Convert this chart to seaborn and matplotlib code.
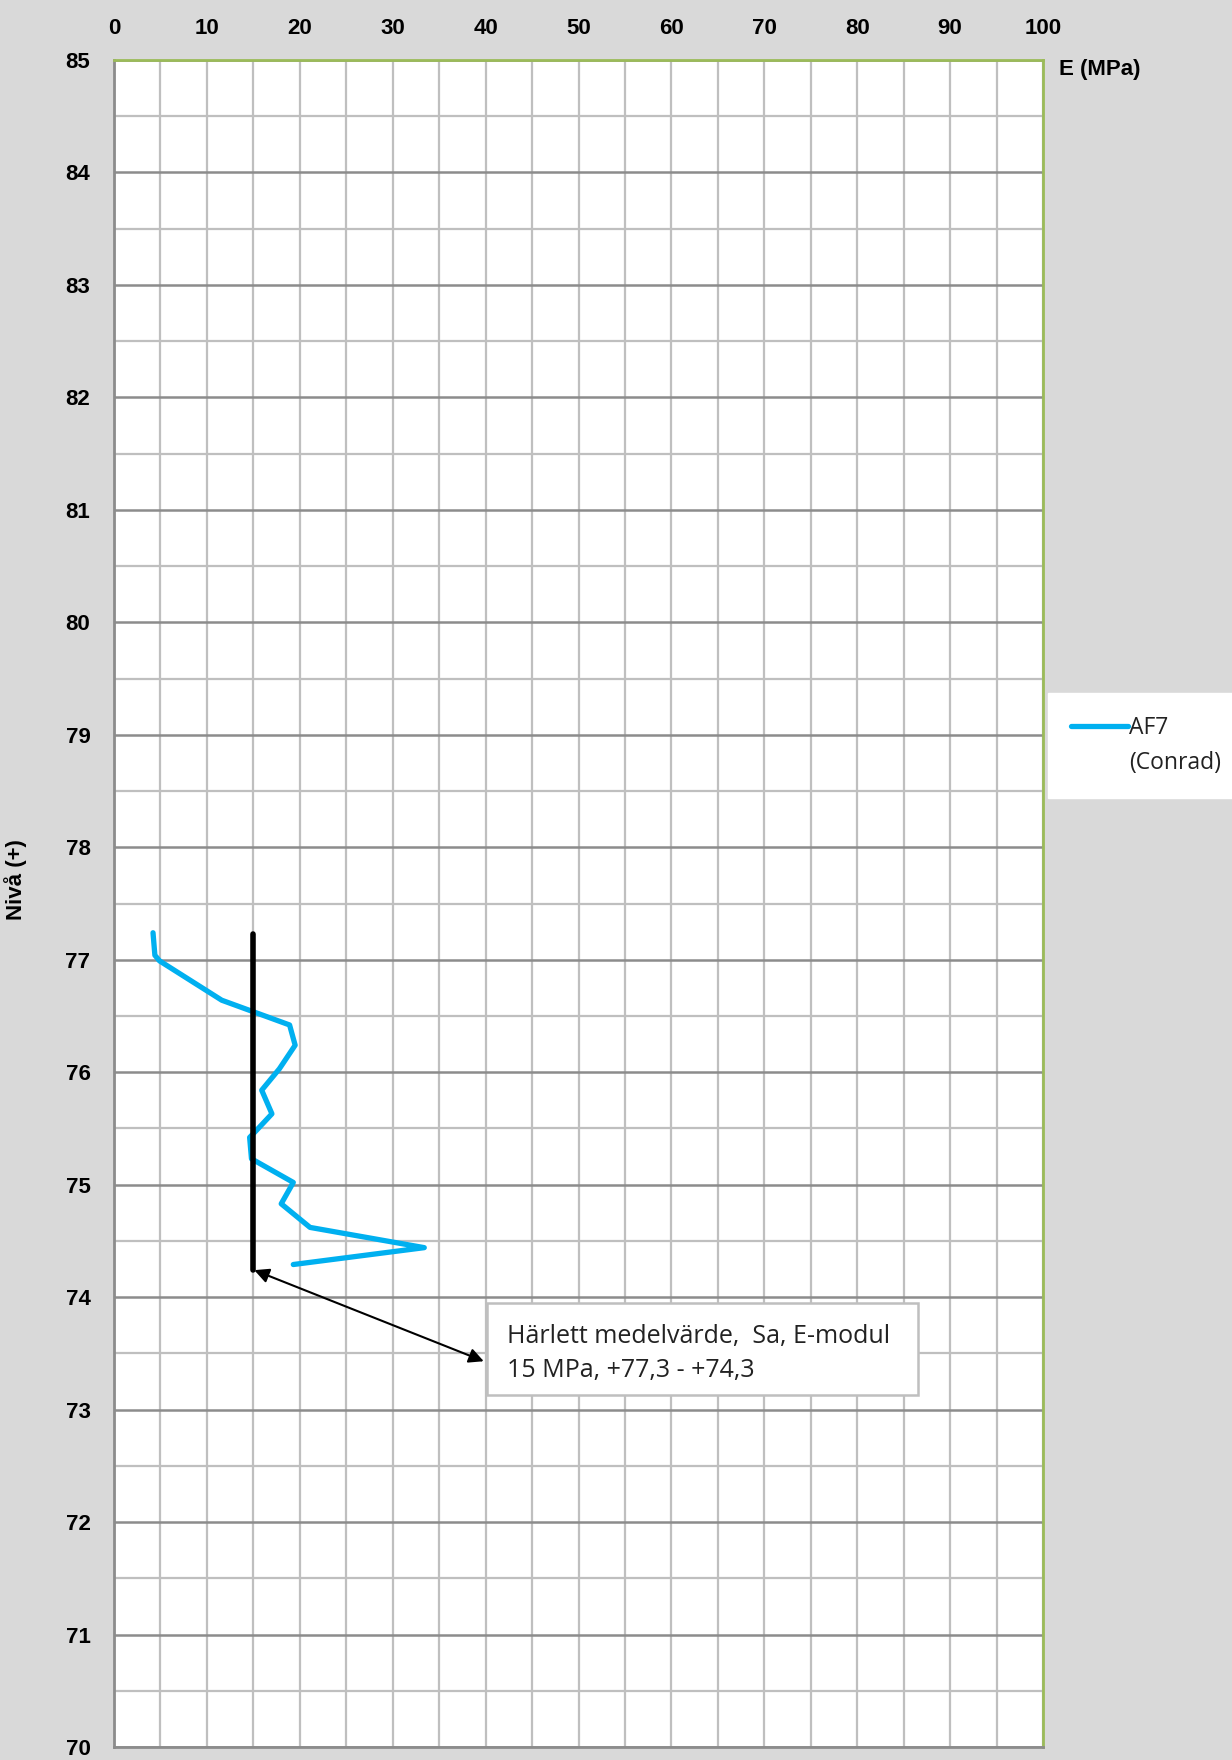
import numpy as np
import pandas as pd
import matplotlib.pyplot as plt
import seaborn as sns
from matplotlib.lines import Line2D
from matplotlib.patches import Rectangle
from matplotlib.ticker import MultipleLocator

# AF7 (Conrad) sounding, E-modulus vs level
e_mpa = [4.2, 4.4, 4.9, 11.6, 18.9, 19.5, 17.8, 15.9, 17.0, 15.3, 14.6, 14.8,
         19.3, 18.0, 21.1, 33.4, 19.3]
niva = [77.24, 77.04, 76.99, 76.64, 76.42, 76.24, 76.03, 75.84, 75.63, 75.48,
        75.42, 75.23, 75.02, 74.83, 74.62, 74.44, 74.29]

# chosen mean value over the layer
mean_e = [15, 15]
mean_niva = [77.23, 74.24]

x_ticks = list(range(0, 101, 10))
y_ticks = list(range(70, 86))

df = pd.DataFrame({"E": e_mpa, "niva": niva})
df_mean = pd.DataFrame({"E": mean_e, "niva": mean_niva})

sns.set_style("white")
plt.rcParams["font.family"] = ["Liberation Sans", "DejaVu Sans"]
body_font = ["Open Sans", "DejaVu Sans"]

bg = "#D9D9D9"
fig = plt.figure(figsize=(12.32, 17.6), dpi=100, facecolor=bg)
ax = fig.add_axes([114 / 1232, 1 - 1747 / 1760, (1043 - 114) / 1232, (1747 - 60) / 1760])
ax.set_facecolor("white")

sns.lineplot(data=df, x="E", y="niva", sort=False, estimator=None, color="#00B0F0",
             linewidth=3.8, ax=ax, label="AF7", legend=False, zorder=4)
sns.lineplot(data=df_mean, x="E", y="niva", sort=False, estimator=None, color="black",
             linewidth=4, ax=ax, legend=False, zorder=5)

ax.set_xlim(0, 100)
ax.set_ylim(70, 85)
ax.set_xticks(x_ticks)
ax.set_yticks(y_ticks)
ax.xaxis.set_minor_locator(MultipleLocator(5))
ax.yaxis.set_minor_locator(MultipleLocator(0.5))
ax.xaxis.tick_top()
ax.tick_params(axis="both", which="both", length=0, labelsize=16, labelcolor="black")
ax.tick_params(axis="x", pad=15)
ax.tick_params(axis="y", pad=17)
for lab in ax.get_xticklabels() + ax.get_yticklabels():
    lab.set_fontweight("bold")

ax.grid(True, which="minor", color="#BFBFBF", linewidth=1.6, zorder=0)
ax.grid(True, which="major", axis="x", color="#BFBFBF", linewidth=1.6, zorder=0)
ax.grid(True, which="major", axis="y", color="#8C8C8C", linewidth=1.8, zorder=0)
ax.set_axisbelow(True)

for side in ["top", "right"]:
    ax.spines[side].set_color("#9BBB59")
    ax.spines[side].set_linewidth(2)
for side in ["left", "bottom"]:
    ax.spines[side].set_color("#8C8C8C")
    ax.spines[side].set_linewidth(2)

ax.set_xlabel("")
ax.set_ylabel("Nivå (+)", fontsize=16, fontweight="bold", color="black")
ax.yaxis.set_label_coords(-0.0937, 0.514)
fig.text(1059 / 1232, 1 - 69 / 1760, "E (MPa)", fontsize=16, fontweight="bold",
         va="center", ha="left", color="black")

# annotation box and arrow
ax.add_patch(Rectangle((40.2, 73.13), 46.3, 0.82, facecolor="white", edgecolor="#BFBFBF",
                       linewidth=1.8, zorder=6))
ax.text(42.3, 73.5, "Härlett medelvärde,  Sa, E-modul\n15 MPa, +77,3 - +74,3",
        fontsize=18, va="center", ha="left", color="#222222", linespacing=1.45, zorder=7,
        family=body_font)
ax.annotate("", xy=(15.1, mean_niva[1]), xytext=(39.8, 73.43),
            arrowprops=dict(arrowstyle="<|-|>", color="black", lw=1.5,
                            mutation_scale=22, shrinkA=0, shrinkB=0), zorder=6)

handles, labels = ax.get_legend_handles_labels()
handles.append(Line2D([], [], color="none"))
labels.append("(Conrad)")
leg = fig.legend(handles, labels, loc="upper left",
                 bbox_to_anchor=(1048 / 1232, 1 - 693 / 1760),
                 frameon=True, fancybox=False, framealpha=1,
                 handlelength=2.5, handletextpad=0.05, borderpad=1.0, borderaxespad=0,
                 labelspacing=0.5, prop={"family": body_font, "size": 16.5})
leg.get_frame().set_edgecolor("white")
leg.get_frame().set_facecolor("white")
for t in leg.get_texts():
    t.set_color("#222222")

fig.savefig("out.png", dpi=100, facecolor=bg)
